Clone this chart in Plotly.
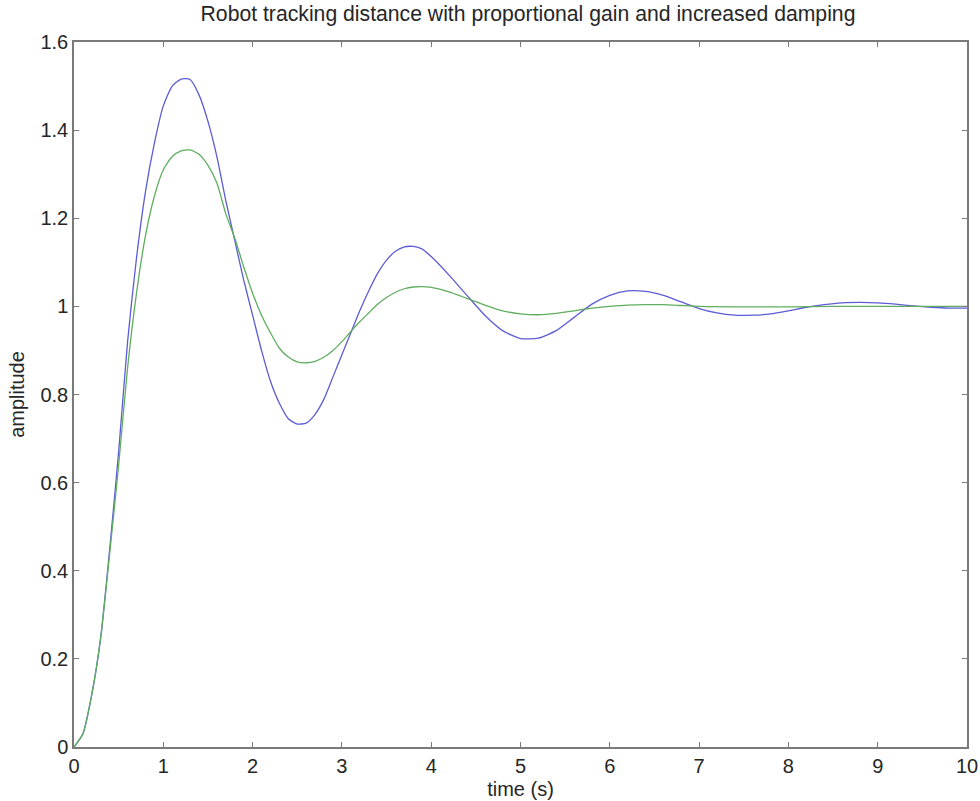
import plotly.graph_objects as go

# time samples (s)
t_blue = [0, 0.1, 0.2, 0.3, 0.4, 0.5, 0.6, 0.7, 0.8, 0.9, 1.0, 1.1, 1.2, 1.3, 1.4, 1.5,
          1.6, 1.7, 1.8, 1.9, 2.0, 2.1, 2.2, 2.3, 2.4, 2.5, 2.6, 2.7, 2.8, 2.9, 3.0,
          3.1, 3.2, 3.3, 3.4, 3.5, 3.6, 3.7, 3.8, 3.9, 4.0, 4.2, 4.4, 4.6, 4.8, 5.0,
          5.2, 5.4, 5.6, 5.8, 6.0, 6.2, 6.4, 6.6, 6.8, 7.0, 7.2, 7.4, 7.6, 7.8, 8.0,
          8.2, 8.4, 8.6, 8.8, 9.0, 9.2, 9.4, 9.6, 9.8, 10.0]
y_blue = [0, 0.03, 0.12, 0.25, 0.45, 0.67, 0.92, 1.11, 1.26, 1.37, 1.455, 1.50, 1.516, 1.515, 1.48, 1.42,
          1.34, 1.24, 1.15, 1.06, 0.98, 0.90, 0.83, 0.78, 0.745, 0.733, 0.735, 0.755, 0.79, 0.84, 0.89,
          0.94, 0.99, 1.035, 1.075, 1.105, 1.125, 1.135, 1.136, 1.13, 1.113, 1.071, 1.025, 0.98, 0.945, 0.927,
          0.928, 0.945, 0.975, 1.005, 1.025, 1.035, 1.034, 1.025, 1.01, 0.995, 0.985, 0.98, 0.98, 0.983, 0.99,
          0.998, 1.004, 1.008, 1.009, 1.008, 1.005, 1.001, 0.998, 0.996, 0.996]

t_green = [0, 0.1, 0.2, 0.3, 0.4, 0.5, 0.6, 0.7, 0.8, 0.9, 1.0, 1.1, 1.2, 1.3, 1.4, 1.5,
           1.6, 1.7, 1.8, 1.9, 2.0, 2.1, 2.2, 2.3, 2.4, 2.5, 2.6, 2.7, 2.8, 2.9, 3.0,
           3.1, 3.2, 3.3, 3.4, 3.5, 3.6, 3.7, 3.8, 3.9, 4.0, 4.2, 4.4, 4.6, 4.8, 5.0,
           5.2, 5.4, 5.6, 5.8, 6.0, 6.2, 6.4, 6.6, 6.8, 7.0, 7.5, 8.0, 8.5, 9.0, 9.5, 10.0]
y_green = [0, 0.03, 0.12, 0.25, 0.44, 0.64, 0.86, 1.03, 1.16, 1.25, 1.31, 1.34, 1.353, 1.355, 1.345, 1.32,
           1.28, 1.21, 1.155, 1.09, 1.03, 0.98, 0.94, 0.905, 0.885, 0.874, 0.872, 0.875, 0.885, 0.90, 0.92,
           0.943, 0.965, 0.985, 1.005, 1.02, 1.032, 1.04, 1.044, 1.045, 1.043, 1.033, 1.018, 1.003, 0.99, 0.983,
           0.981, 0.984, 0.99, 0.996, 1.0, 1.003, 1.004, 1.004, 1.002, 1.0, 0.999, 0.999, 1.0, 1.0, 1.0, 1.0]

x_ticks = [0, 1, 2, 3, 4, 5, 6, 7, 8, 9, 10]
x_tick_labels = ["0", "1", "2", "3", "4", "5", "6", "7", "8", "9", "10"]
y_ticks = [0, 0.2, 0.4, 0.6, 0.8, 1.0, 1.2, 1.4, 1.6]
y_tick_labels = ["0", "0.2", "0.4", "0.6", "0.8", "1", "1.2", "1.4", "1.6"]

FONT = "Liberation Sans, Arial, sans-serif"
AXIS_COLOR = "#7a7a7a"
TEXT_COLOR = "#262626"

fig = go.Figure()
fig.add_trace(go.Scatter(x=t_blue, y=y_blue, mode="lines",
                         line=dict(color="#5c5cd6", width=1.3, shape="spline", smoothing=0.6),
                         showlegend=False, hoverinfo="skip"))
fig.add_trace(go.Scatter(x=t_green, y=y_green, mode="lines",
                         line=dict(color="#5fae5f", width=1.3, shape="spline", smoothing=0.6),
                         showlegend=False, hoverinfo="skip"))

axis_common = dict(showgrid=False, zeroline=False, showline=True, linecolor=AXIS_COLOR,
                   linewidth=1.5, mirror="ticks", ticks="inside", ticklen=5,
                   tickcolor=AXIS_COLOR, tickwidth=1, automargin=False,
                   tickfont=dict(family=FONT, size=20, color=TEXT_COLOR))

fig.update_layout(
    width=980, height=801,
    paper_bgcolor="white", plot_bgcolor="white",
    margin=dict(l=74, r=13, t=42, b=54, autoexpand=False),
    title=dict(text="Robot tracking distance with proportional gain and increased damping",
               x=528 / 980, xref="container", y=1 - 14 / 801, yref="container",
               xanchor="center", yanchor="middle",
               font=dict(family=FONT, size=21.2, color=TEXT_COLOR)),
    xaxis=dict(range=[0, 10], tickvals=x_ticks, ticktext=x_tick_labels,
               title=dict(text="time (s)", font=dict(family=FONT, size=20, color=TEXT_COLOR), standoff=6),
               **axis_common),
    yaxis=dict(range=[0, 1.6], tickvals=y_ticks, ticktext=y_tick_labels,
               title=dict(text="amplitude", font=dict(family=FONT, size=20, color=TEXT_COLOR), standoff=10),
               **axis_common),
)

fig.write_html("out.html",
               config={"displayModeBar": False},
               post_script="document.body.style.margin='0';document.body.style.overflow='hidden';")
